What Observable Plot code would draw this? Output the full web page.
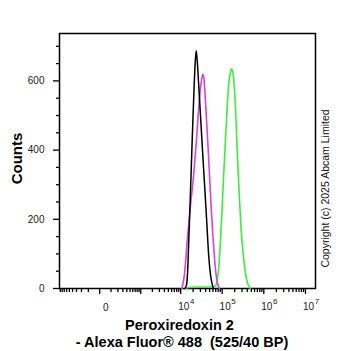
<!DOCTYPE html>
<html>
<head>
<meta charset="utf-8">
<script src="https://cdn.jsdelivr.net/npm/d3@7"></script>
<script src="https://cdn.jsdelivr.net/npm/@observablehq/plot@0.6"></script>
<style>
  html, body { margin: 0; padding: 0; background: #fff; }
  svg text { white-space: pre; }
</style>
</head>
<body>
<div id="chart"></div>
<script>
// Fluorescence intensity (raw, biexponential-like axis) and counts per series
const isotypeX = [12700, 13800, 14600, 15700, 17300, 19000, 20700, 22400, 23700, 25000, 26900, 30100, 33600, 37600, 42000, 47700, 52400, 56900, 61800];
const isotypeY = [0, 10, 40, 139, 284, 429, 555, 652, 687, 661, 600, 500, 401, 303, 205, 91, 40, 15, 0];

const unstainedX = [10700, 12400, 14400, 17300, 20700, 24100, 27400, 30900, 34200, 36500, 39700, 43100, 46900, 50900, 55300, 60100, 65400, 71000, 79300, 86200];
const unstainedY = [0, 43, 139, 240, 332, 430, 525, 590, 619, 605, 540, 465, 385, 300, 220, 148, 88, 42, 10, 0];

const prdx2X = [13100, 15400, 22800, 39700, 61800, 69100, 75900, 82900, 91100, 100000, 109000, 120000, 132000, 144000, 158000, 167000, 180000, 198000, 217000, 237000, 261000, 286000, 320000, 363000, 412000, 479000];
const prdx2Y = [0, 3, 4, 4, 5, 8, 23, 62, 139, 236, 332, 429, 525, 593, 625, 635, 625, 574, 477, 361, 255, 168, 100, 43, 14, 0];

// Axis ticks
const yMajor = [0, 200, 400, 600];
const yMinor = [50, 100, 150, 250, 300, 350, 450, 500, 550, 650, 700];
const xMajor = [0, 1e3, 1e4, 1e5, 1e6, 1e7];
const xMinor = [
  -900, -800, -700, -600, -500, -400, -300, -200, -100,
  100, 200, 300, 400, 500, 600, 700, 800, 900,
  2e3, 3e3, 4e3, 5e3, 6e3, 7e3, 8e3, 9e3,
  2e4, 3e4, 4e4, 5e4, 6e4, 7e4, 8e4, 9e4,
  2e5, 3e5, 4e5, 5e5, 6e5, 7e5, 8e5, 9e5,
  2e6, 3e6, 4e6, 5e6, 6e6, 7e6, 8e6, 9e6
];
const xExponents = [4, 5, 6, 7];

const yTitle = "Counts";
const xTitle1 = "Peroxiredoxin 2";
const xTitle2 = "- Alexa Fluor® 488  (525/40 BP)";
const copyright = "Copyright (c) 2025 Abcam Limited";

const series = (X, Y) => X.map((x, i) => ({x, y: Y[i]}));

const chart = Plot.plot({
  width: 362,
  height: 351,
  marginTop: 33,
  marginBottom: 63,
  marginLeft: 59,
  marginRight: 47,
  style: {fontFamily: "'Liberation Sans', Arial, sans-serif", fontSize: "10px", color: "#000", background: "#fff"},
  x: {type: "symlog", constant: 115, domain: [-945, 1.74e7]},
  y: {domain: [0, 737]},
  marks: [
    Plot.frame({stroke: "#000", strokeWidth: 1.5}),
    Plot.axisY(yMinor, {tickSize: 3, tickFormat: () => "", label: null, strokeWidth: 1.3}),
    Plot.axisY(yMajor, {tickSize: 6, tickPadding: 9, label: null, strokeWidth: 1.3, fontSize: 10, fill: "#222"}),
    Plot.axisX(xMinor, {tickSize: 4, tickFormat: () => "", label: null, strokeWidth: 1.3}),
    Plot.axisX(xMajor, {tickSize: 6, tickFormat: () => "", label: null, strokeWidth: 1.3}),
    Plot.text([0], {x: d => d, text: () => "0", frameAnchor: "bottom", dx: 6, dy: 19, fontSize: 10, textAnchor: "middle", lineAnchor: "middle", fill: "#222"}),
    Plot.text(xExponents, {x: d => 10 ** d, text: () => "10", frameAnchor: "bottom", dx: 3, dy: 18.7, fontSize: 10, textAnchor: "middle", lineAnchor: "middle", fill: "#222"}),
    Plot.text(xExponents, {x: d => 10 ** d, text: d => String(d), frameAnchor: "bottom", dx: 11.4, dy: 13, fontSize: 8, textAnchor: "middle", lineAnchor: "middle", fill: "#222"}),
    Plot.line(series(prdx2X, prdx2Y), {x: "x", y: "y", stroke: "#3cee3c", strokeWidth: 1.6, curve: "monotone-x"}),
    Plot.line(series(unstainedX, unstainedY), {x: "x", y: "y", stroke: "#dd40dd", strokeWidth: 1.6, curve: "monotone-x"}),
    Plot.line(series(isotypeX, isotypeY), {x: "x", y: "y", stroke: "#000", strokeWidth: 1.5, curve: "monotone-x"}),
    Plot.text([yTitle], {text: d => d, frameAnchor: "left", dx: -42.5, dy: -2.5, rotate: -90, fontSize: 15, fontWeight: "bold", textAnchor: "middle", lineAnchor: "middle"}),
    Plot.text([xTitle1], {text: d => d, frameAnchor: "bottom", dx: -8, dy: 37, fontSize: 14.5, fontWeight: "bold", textAnchor: "middle", lineAnchor: "middle"}),
    Plot.text([xTitle2], {text: d => d, frameAnchor: "bottom", dx: -5.5, dy: 54, fontSize: 14.5, fontWeight: "bold", textAnchor: "middle", lineAnchor: "middle"}),
    Plot.text([copyright], {text: d => d, frameAnchor: "right", dx: 10, dy: 27.5, rotate: -90, fontSize: 10.5, textAnchor: "middle", lineAnchor: "middle", fill: "#111"})
  ]
});
document.getElementById("chart").appendChild(chart);
</script>
</body>
</html>
